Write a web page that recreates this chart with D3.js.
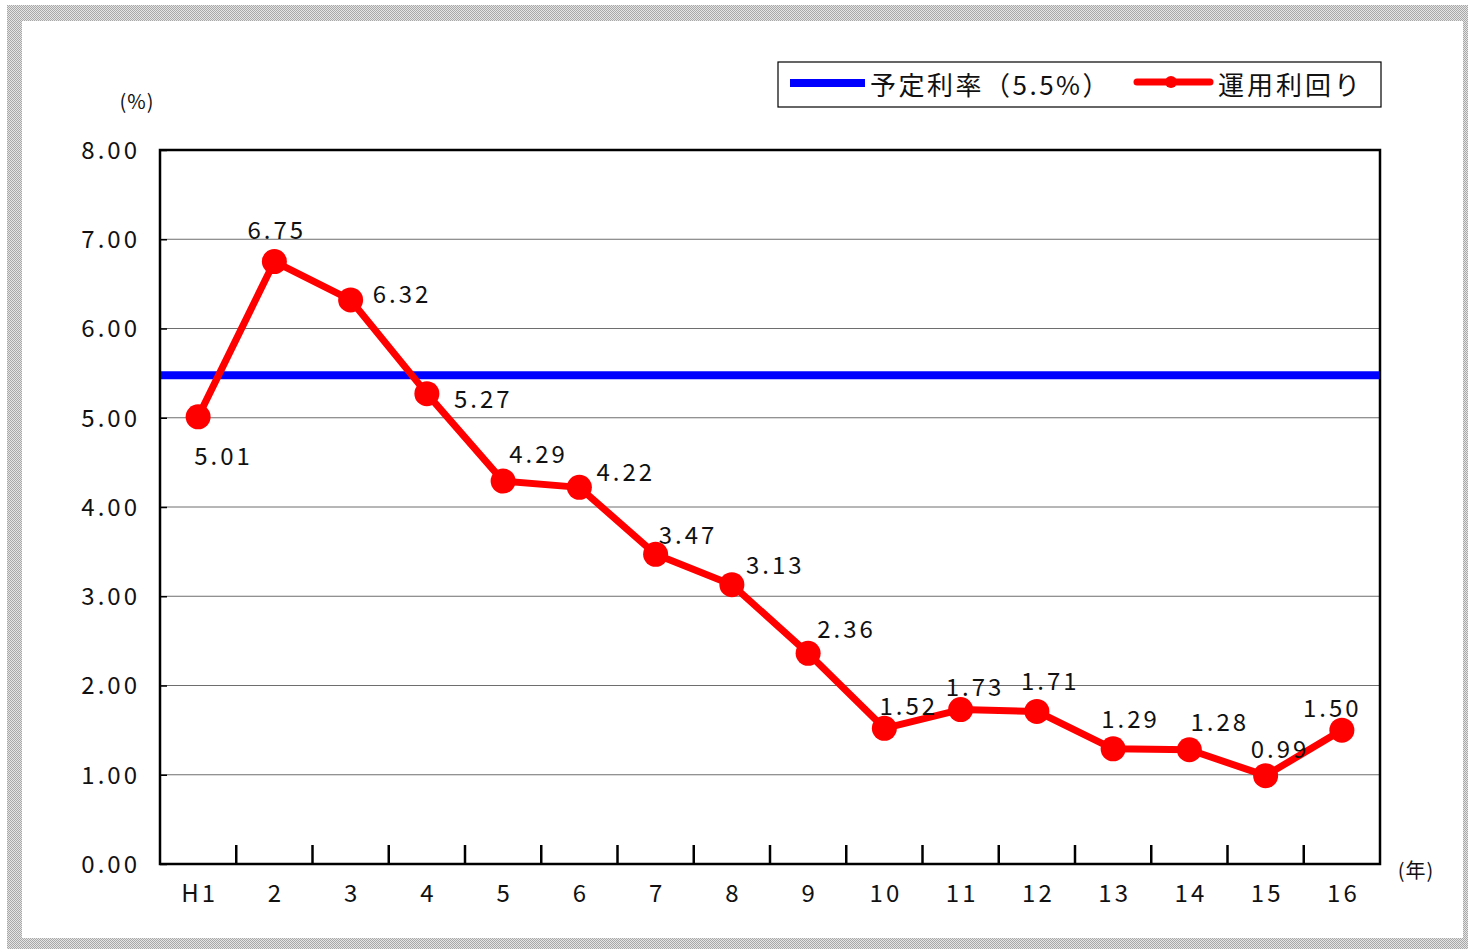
<!DOCTYPE html>
<html>
<head>
<meta charset="utf-8">
<script src="https://cdn.jsdelivr.net/npm/d3@7/dist/d3.min.js"></script>
<style>
  body { margin: 0; background: #fff; }
  text { font-family: "Noto Sans CJK JP", "Noto Sans", sans-serif; fill: #111; }
</style>
</head>
<body>
<div id="chart"></div>
<script>
// Datos
const years = ['H1', '2', '3', '4', '5', '6', '7', '8', '9', '10', '11', '12', '13', '14', '15', '16'];
const rates = [5.01, 6.75, 6.32, 5.27, 4.29, 4.22, 3.47, 3.13, 2.36, 1.52, 1.73, 1.71, 1.29, 1.28, 0.99, 1.50];
const planned = 5.5;
const yTicks = [0, 1, 2, 3, 4, 5, 6, 7, 8];
const legendLabels = ['予定利率（5.5%）', '運用利回り'];

// Desplazamiento de las etiquetas respecto al punto
const labelOffsets = [[24, 40], [1, -31], [50, -5], [55, 6], [34, -27], [45, -15], [31, -19], [42, -19], [37, -24],
  [23, -22], [13, -22], [12, -30], [16, -29], [29, -27], [13, -26], [-11, -22]];

const W = 1468, H = 949;
const margin = {top: 150, right: 88, bottom: 85, left: 160};

const svg = d3.select('#chart').append('svg')
  .attr('width', W).attr('height', H);

// Marco gris punteado
const defs = svg.append('defs');
const pat = defs.append('pattern').attr('id', 'dots')
  .attr('width', 2).attr('height', 2).attr('patternUnits', 'userSpaceOnUse');
pat.append('rect').attr('width', 2).attr('height', 2).attr('fill', '#e4e4e4');
pat.append('rect').attr('width', 1).attr('height', 1).attr('fill', '#a8a8a8');
pat.append('rect').attr('x', 1).attr('y', 1).attr('width', 1).attr('height', 1).attr('fill', '#a8a8a8');

svg.append('rect').attr('x', 7).attr('y', 5).attr('width', W - 7).attr('height', H - 5).attr('fill', 'url(#dots)');
svg.append('rect').attr('x', 22).attr('y', 21).attr('width', 1463 - 22).attr('height', 938 - 21).attr('fill', '#fff');

const x = d3.scaleBand().domain(years).range([margin.left, W - margin.right]);
const y = d3.scaleLinear().domain([0, 8]).range([H - margin.bottom, margin.top]);

// Rejilla
svg.append('g').selectAll('line').data(yTicks.slice(1, -1)).enter().append('line')
  .attr('x1', margin.left).attr('x2', W - margin.right)
  .attr('y1', d => y(d)).attr('y2', d => y(d))
  .attr('stroke', '#6e6e6e').attr('stroke-width', 1);

// Eje Y
const yAxis = svg.append('g').attr('transform', 'translate(' + margin.left + ',0)')
  .call(d3.axisLeft(y).tickValues(yTicks).tickFormat(d3.format('.2f')).tickSize(-7).tickPadding(20));
yAxis.select('.domain').remove();
yAxis.selectAll('line').attr('stroke', '#000').attr('stroke-width', 1.5);
yAxis.selectAll('text').attr('font-size', 24).attr('letter-spacing', 3).attr('dy', '0.35em')
  .style('font-family', '"Noto Sans CJK JP", sans-serif');

// Eje X
const xAxis = svg.append('g').attr('transform', 'translate(0,' + y(0) + ')')
  .call(d3.axisBottom(x).tickSize(0).tickPadding(24));
xAxis.select('.domain').remove();
xAxis.selectAll('text').attr('font-size', 24).attr('letter-spacing', 3).attr('dx', 1.5).attr('dy', '0.6em')
  .style('font-family', '"Noto Sans CJK JP", sans-serif');

svg.append('g').selectAll('line').data(years.slice(1)).enter().append('line')
  .attr('x1', d => x(d)).attr('x2', d => x(d))
  .attr('y1', y(0)).attr('y2', y(0) - 19)
  .attr('stroke', '#000').attr('stroke-width', 2.5);

// Marco del área
svg.append('rect')
  .attr('x', margin.left).attr('y', margin.top)
  .attr('width', W - margin.right - margin.left).attr('height', y(0) - margin.top)
  .attr('fill', 'none').attr('stroke', '#000').attr('stroke-width', 2.5);

// Tipo previsto
svg.append('line')
  .attr('x1', margin.left + 1).attr('x2', W - margin.right - 1)
  .attr('y1', y(planned) + 2).attr('y2', y(planned) + 2)
  .attr('stroke', '#0000ff').attr('stroke-width', 8);

// Rentabilidad
const cx = (d, i) => x(years[i]) + x.bandwidth() / 2;
const line = d3.line().x(cx).y(d => y(d));
svg.append('path').datum(rates)
  .attr('d', line).attr('fill', 'none')
  .attr('stroke', '#ff0000').attr('stroke-width', 7).attr('stroke-linejoin', 'round');

svg.append('g').selectAll('circle').data(rates).enter().append('circle')
  .attr('cx', cx).attr('cy', d => y(d)).attr('r', 12.5).attr('fill', '#ff0000');

svg.append('g').selectAll('text').data(rates).enter().append('text')
  .attr('x', (d, i) => cx(d, i) + labelOffsets[i][0] + 1.5)
  .attr('y', (d, i) => y(d) + labelOffsets[i][1])
  .attr('dy', '0.35em').attr('text-anchor', 'middle').attr('font-size', 24).attr('letter-spacing', 3)
  .text(d => d.toFixed(2));

// Unidades
svg.append('text').attr('x', 137).attr('y', 102).attr('dy', '0.35em')
  .attr('text-anchor', 'middle').attr('font-size', 20).attr('letter-spacing', 1).text('(%)');
svg.append('text').attr('x', 1416).attr('y', 871).attr('dy', '0.35em')
  .attr('text-anchor', 'middle').attr('font-size', 20).attr('letter-spacing', 1).text('(年)');

// Leyenda
const lg = svg.append('g');
lg.append('rect').attr('x', 778).attr('y', 62).attr('width', 603).attr('height', 45)
  .attr('fill', '#fff').attr('stroke', '#000').attr('stroke-width', 1.2);
lg.append('line').attr('x1', 790).attr('x2', 865).attr('y1', 83).attr('y2', 83)
  .attr('stroke', '#0000ff').attr('stroke-width', 8);
lg.append('text').attr('x', 870).attr('y', 86).attr('dy', '0.35em').attr('font-size', 26)
  .attr('letter-spacing', 2.5).text(legendLabels[0]);
lg.append('line').attr('x1', 1137).attr('x2', 1210).attr('y1', 82).attr('y2', 82)
  .attr('stroke', '#ff0000').attr('stroke-width', 7).attr('stroke-linecap', 'round');
lg.append('circle').attr('cx', 1171).attr('cy', 82).attr('r', 6).attr('fill', '#ff0000');
lg.append('text').attr('x', 1218).attr('y', 86).attr('dy', '0.35em').attr('font-size', 26)
  .attr('letter-spacing', 3).text(legendLabels[1]);
</script>
</body>
</html>
